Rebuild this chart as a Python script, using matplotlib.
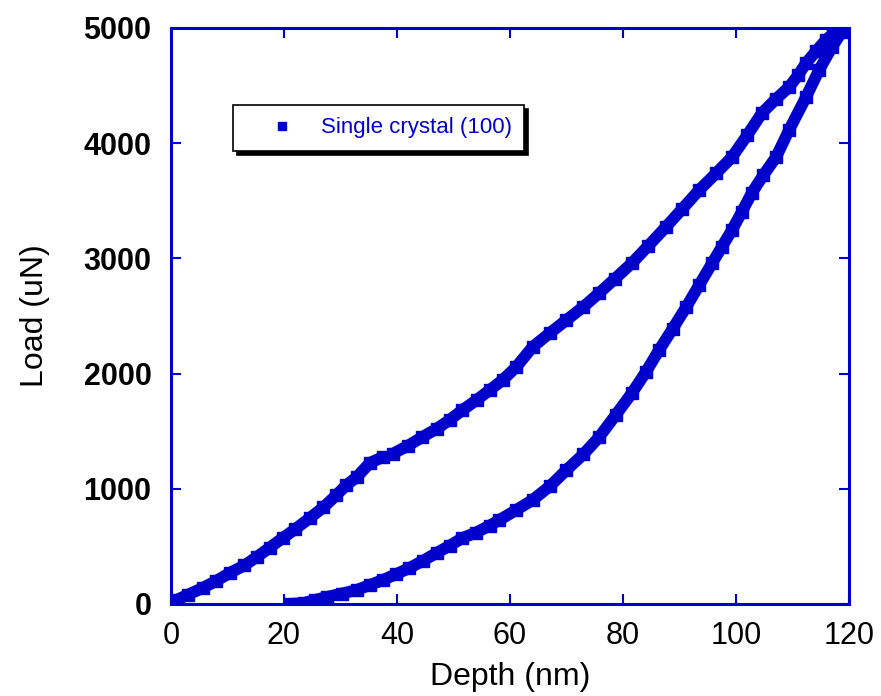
import matplotlib.pyplot as plt

plt.rcParams['font.family'] = ['Liberation Sans', 'DejaVu Sans']

# loading branch, before the small pop-in
load1_depth = [0, 1, 3, 5.6, 8, 10.4, 13, 15.2, 17.5, 19.8, 22, 24.6, 27, 29.3, 31, 32.9, 35.2, 37.5]
load1_force = [0, 35, 80, 139, 200, 269, 335, 408, 490, 573, 650, 747, 840, 946, 1030, 1102, 1224, 1276]

# loading branch, after the pop-in, up to the peak
load2_depth = [39.3, 42, 44.5, 47, 49.3, 51.5, 54.1, 56.5, 58.7, 61.1, 64, 67, 70, 73, 75.8, 78.5,
               81.6, 84.5, 87.6, 90.5, 93.5, 96.5, 99.3, 102, 104.6, 107, 109.4, 111, 112.4, 114.2,
               115.9, 117.2, 118.3]
load2_force = [1305, 1375, 1450, 1520, 1597, 1680, 1771, 1860, 1944, 2057, 2231, 2350, 2465, 2580, 2700, 2820,
               2960, 3110, 3273, 3430, 3594, 3740, 3880, 4070, 4262, 4380, 4488, 4590, 4696, 4800,
               4896, 4950, 5000]

# unloading branch
unload_depth = [118.3, 118.7, 117.0, 114.7, 112.4, 109.4, 107.1, 104.8, 102.8, 101, 99.3, 97.5, 95.8, 93.5,
                91.2, 88.8, 86.4, 84, 81.6, 78.7, 75.8, 73, 70, 67, 64, 61.1, 58.1, 56.4, 54, 51.6,
                49.3, 47.0, 44.6, 42.2, 39.8, 37.5, 35.2, 32.9, 30.2, 27.6, 25.5, 23.5, 21.0]
unload_force = [5000, 4965, 4835, 4635, 4401, 4115, 3880, 3720, 3568, 3400, 3247, 3100, 2960, 2770,
                2578, 2390, 2205, 2010, 1832, 1640, 1450, 1300, 1163, 1020, 903, 815, 729, 680, 620, 573,
                505, 443, 375, 312, 258, 208, 165, 122, 90, 61, 35, 8, 0]

blue = '#0000CC'

fig = plt.figure(figsize=(8.81, 6.96), dpi=100)
ax = fig.add_axes([0.194, 0.1322, 0.7697, 0.8276])

for d, f in [(load1_depth, load1_force), (load2_depth, load2_force), (unload_depth, unload_force)]:
    ax.plot(d, f, color=blue, lw=8.5, solid_capstyle='butt', solid_joinstyle='miter', zorder=2)
    ax.plot(d, f, 's', color=blue, ms=9, zorder=3)

# dummy handle for the legend (square marker only)
ax.plot([], [], 's', color=blue, ms=6, label='Single crystal (100)')

ax.set_xlim(0, 120)
ax.set_ylim(0, 5000)
ax.set_xticks([0, 20, 40, 60, 80, 100, 120])
ax.set_yticks([0, 1000, 2000, 3000, 4000, 5000])

for s in ax.spines.values():
    s.set_color(blue)
    s.set_linewidth(2.2)
ax.tick_params(direction='in', length=7, width=1.5, color=blue, top=True, right=True)
ax.tick_params(axis='x', labelsize=22, pad=12)
ax.tick_params(axis='y', labelsize=22, pad=14)
for lab in ax.get_yticklabels():
    lab.set_fontweight('bold')

ax.set_xlabel('Depth (nm)', fontsize=23, labelpad=8)
ax.set_ylabel('Load (uN)', fontsize=23, labelpad=24)

leg = ax.legend(loc='upper left', bbox_to_anchor=(0.0914, 0.866), fontsize=16,
                frameon=True, fancybox=False, edgecolor='black', borderpad=0.55,
                handlelength=3.3, handletextpad=0.1, borderaxespad=0,
                shadow={'ox': 3, 'oy': -3, 'color': 'black', 'alpha': 1})
leg.get_frame().set_linewidth(1.2)
for t in leg.get_texts():
    t.set_color(blue)

plt.savefig('out.png', dpi=100)
